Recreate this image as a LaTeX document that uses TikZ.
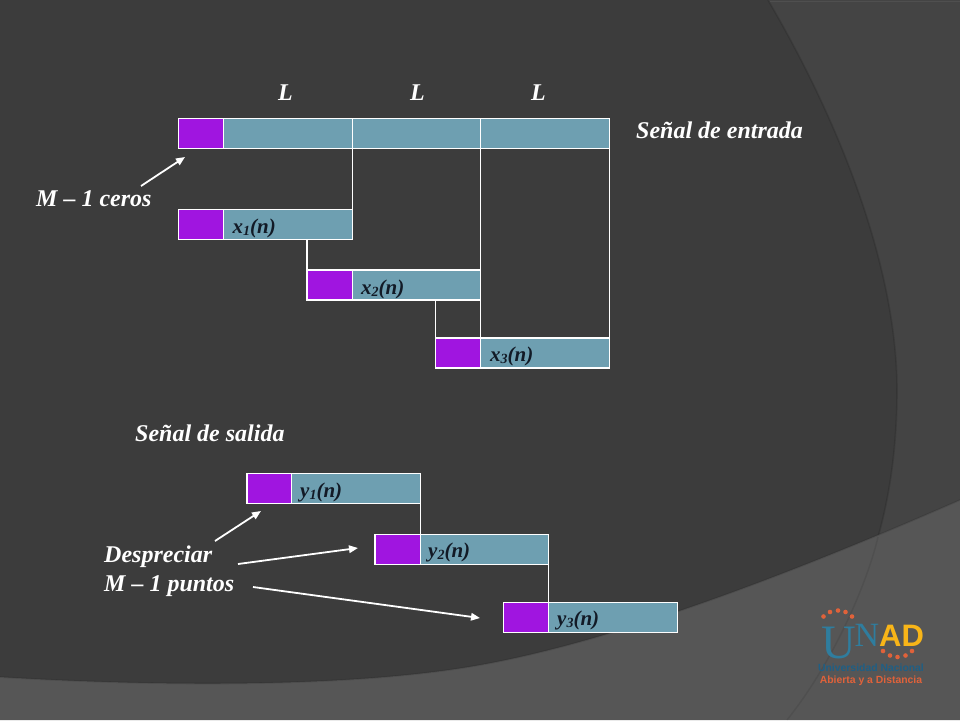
\documentclass[tikz,border=0pt]{standalone}
\usepackage{fontspec}
\setmainfont{Liberation Serif}
\newfontfamily\logosans{Liberation Sans}
\usetikzlibrary{arrows.meta}
\definecolor{bgmain}{HTML}{3C3C3C}
\definecolor{bgarc}{HTML}{444444}
\definecolor{bgband}{HTML}{565656}
\definecolor{tealbox}{HTML}{6E9FB1}
\definecolor{purplebox}{HTML}{A015E0}
\definecolor{inktext}{HTML}{121A26}
\definecolor{logoteal}{HTML}{2F7D9E}
\definecolor{logoblue}{HTML}{1F5F85}
\definecolor{logoorange}{HTML}{E0623A}
\definecolor{logoyellow}{HTML}{F8B518}
\tikzset{
  seg/.style={draw=white,line width=1.2pt,fill=tealbox,anchor=north west,inner sep=0pt,outer sep=0pt,minimum height=30pt},
  zero/.style={seg,fill=purplebox,minimum width=45pt},
  wlabel/.style={text=white,font=\fontsize{24}{28}\selectfont\bfseries\itshape,inner sep=0pt,anchor=base west,align=left},
  blabel/.style={text=inktext,font=\fontsize{21}{23}\selectfont\bfseries\itshape,inner sep=0pt,anchor=base west},
  link/.style={draw=white,line width=1.2pt},
  pointer/.style={draw=white,line width=1.8pt,-{Triangle[length=9pt,width=7.5pt]}},
  logodot/.style={fill=logoorange,draw=none,circle,minimum size=4.6pt,inner sep=0pt},
}
\newcommand{\subsc}[1]{\raisebox{-2.5pt}{\fontsize{14}{14}\selectfont #1}}
\begin{document}
\begin{tikzpicture}[x=1pt,y=-1pt]
\useasboundingbox (0,0) rectangle (960,720);
% background
\fill[bgmain] (0,0) rectangle (960,720);
\fill[bgarc] (768,0) .. controls (850,140) and (897,280) .. (897,390)
  .. controls (897,445) and (890,495) .. (878,537) -- (960,500) -- (960,0) -- cycle;
\draw[black,opacity=.12,line width=1.6pt] (768,0) .. controls (850,140) and (897,280) .. (897,390)
  .. controls (897,445) and (890,495) .. (878,537);
\fill[bgband] (0,677) .. controls (130,685) and (340,690) .. (480,665)
  .. controls (620,640) and (800,570) .. (960,500) -- (960,720) -- (0,720) -- cycle;
\draw[black,opacity=.1,line width=1.6pt] (0,677) .. controls (130,685) and (340,690) .. (480,665)
  .. controls (620,640) and (800,570) .. (960,500);
\draw[black,opacity=.08,line width=1.4pt] (878,537) .. controls (868,580) and (835,660) .. (787,720);
\draw[white,opacity=.06,line width=1pt] (770,1.5) -- (960,1.5);

% top row
\node[zero] (p0) at (178.5,118.5) {};
\node[seg,minimum width=129pt] (s1) at (223.5,118.5) {};
\node[seg,minimum width=128pt] (s2) at (352.5,118.5) {};
\node[seg,minimum width=129pt] (s3) at (480.5,118.5) {};
% x rows
\node[zero] (px1) at (178.5,209.5) {};
\node[seg,minimum width=129pt] (bx1) at (223.5,209.5) {};
\node[zero,minimum width=45.5pt] (px2) at (307,270) {};
\node[seg,minimum width=128pt] (bx2) at (352.5,270) {};
\node[zero,minimum width=45pt] (px3) at (435.5,338) {};
\node[seg,minimum width=129pt] (bx3) at (480.5,338) {};
% y rows
\node[zero,minimum width=44.5pt] (py1) at (247,473.5) {};
\node[seg,minimum width=129pt] (by1) at (291.5,473.5) {};
\node[zero,minimum width=45.5pt] (py2) at (375,534.5) {};
\node[seg,minimum width=128pt] (by2) at (420.5,534.5) {};
\node[zero,minimum width=45pt] (py3) at (503.5,602.5) {};
\node[seg,minimum width=129pt] (by3) at (548.5,602.5) {};

% connectors
\draw[link] (s1.south east) -- (bx1.north east);
\draw[link] (s2.south east) -- (bx2.north east);
\draw[link] (s3.south east) -- (bx3.north east);
\draw[link] (bx1.south -| px2.north west) -- (px2.north west);
\draw[link] (bx2.south east) -- (bx3.north west);
\draw[link] (bx2.south -| px3.north west) -- (px3.north west);
\draw[link] (by1.south east) -- (by2.north west);
\draw[link] (by2.south east) -- (by3.north west);

% white texts
\node[wlabel] (l1) at (278,100) {L};
\node[wlabel] (l2) at (410,100) {L};
\node[wlabel] (l3) at (531,100) {L};
\node[wlabel] (entrada) at (636,138) {Señal de entrada};
\node[wlabel] (ceros) at (36,206) {M – 1 ceros};
\node[wlabel] (salida) at (135,441) {Señal de salida};
\node[wlabel] (desp) at (104,562) {Despreciar};
\node[wlabel] (puntos) at (104,591) {M – 1 puntos};

% box labels
\node[blabel] (lx1) at (232.5,233) {x\subsc{1}(n)};
\node[blabel] (lx2) at (361,294) {x\subsc{2}(n)};
\node[blabel] (lx3) at (490,361) {x\subsc{3}(n)};
\node[blabel] (ly1) at (300,497) {y\subsc{1}(n)};
\node[blabel] (ly2) at (428,557) {y\subsc{2}(n)};
\node[blabel] (ly3) at (557,625) {y\subsc{3}(n)};

% pointers
\coordinate (t0) at (185,157);
\coordinate (t1) at (261,511);
\coordinate (t2) at (358,548);
\coordinate (t3) at (480,618);
\coordinate (f0) at (141,186);
\coordinate (f1) at (215,541);
\coordinate (f2) at (238,564);
\coordinate (f3) at (253,587);
\draw[pointer] (f0) -- (t0);
\draw[pointer] (f1) -- (t1);
\draw[pointer] (f2) -- (t2);
\draw[pointer] (f3) -- (t3);

% logo
\foreach \n/\px/\py in {a/823.5/616.5,b/830/612,c/838/610.5,d/845.5/612,e/852/616.5,
    f/883/651,g/890/655.5,h/897.5/657,i/905.5/655.5,j/912/651}
  \node[logodot] (dot\n) at (\px,\py) {};
\node[inner sep=0pt,anchor=base,text=logoteal,font=\fontsize{48}{48}\selectfont] (logoU) at (838.5,658) {U};
\node[inner sep=0pt,anchor=base,text=logoteal,font=\fontsize{34}{34}\selectfont] (logoN) at (867,646) {N};
\node[inner sep=0pt,anchor=base west,text=logoyellow,font=\logosans\fontsize{31}{31}\bfseries\selectfont] (logoAD) at (879,646.5) {AD};
\node[inner sep=0pt,anchor=base,text=logoblue,font=\logosans\fontsize{10.4}{11}\bfseries\selectfont] (logoA) at (871,671.5) {Universidad Nacional};
\node[inner sep=0pt,anchor=base,text=logoorange,font=\logosans\fontsize{10.4}{11}\bfseries\selectfont] (logoB) at (871,683.5) {Abierta y a Distancia};
\end{tikzpicture}
\end{document}
